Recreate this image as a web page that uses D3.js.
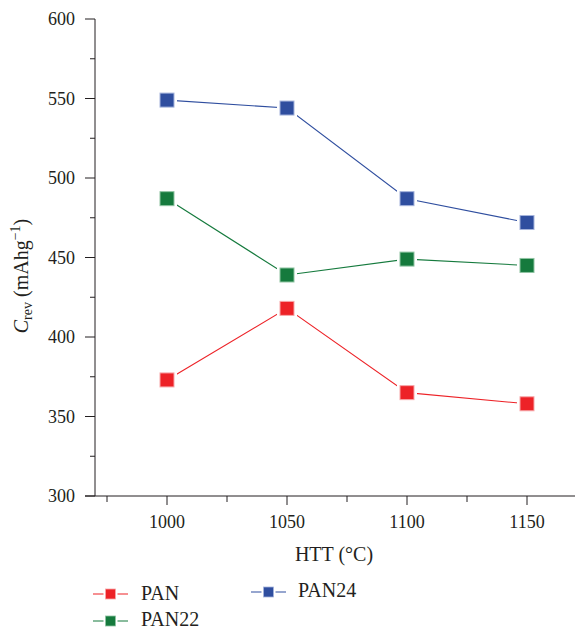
<!DOCTYPE html>
<html>
<head>
<meta charset="utf-8">
<script src="https://cdn.jsdelivr.net/npm/d3@7"></script>
<style>
  html, body { margin: 0; padding: 0; background: #fff; }
  svg { display: block; }
</style>
</head>
<body>
<svg id="chart" width="575" height="631"></svg>
<script>
// Heat-treatment temperatures (°C)
const temps = [1000, 1050, 1100, 1150];
// Reversible capacity (mAh g^-1) per precursor
const panValues   = [373, 418, 365, 358];
const pan22Values = [487, 439, 449, 445];
const pan24Values = [549, 544, 487, 472];
const seriesNames = ["PAN", "PAN22", "PAN24"];
const seriesColors = ["#ed2227", "#157a3d", "#2f4e9f"];
const seriesTints = ["#f7a7a9", "#8fc4a2", "#a5b4dc"];
const xTicks = [1000, 1050, 1100, 1150];
const yTicks = [300, 350, 400, 450, 500, 550, 600];

const series = [panValues, pan22Values, pan24Values].map((vals, i) => ({
  name: seriesNames[i], color: seriesColors[i], tint: seriesTints[i],
  points: vals.map((v, j) => ({ x: temps[j], y: v }))
}));

const ink = "#231f20";
const FONT = '"Liberation Serif"';
const svg = d3.select("#chart");
const x = d3.scaleLinear().domain([970, 1170]).range([95, 575]);
const y = d3.scaleLinear().domain([300, 600]).range([496, 19]);

// Left axis with outward major/minor ticks
const yAxis = svg.append("g").attr("transform", "translate(95,0)");
yAxis.append("line").attr("x1", 0).attr("x2", 0).attr("y1", y(600)).attr("y2", y(300))
  .attr("stroke", ink).attr("stroke-width", 1);
yAxis.selectAll("line.major").data(yTicks).join("line").attr("class", "major")
  .attr("x1", -10).attr("x2", 0).attr("y1", d => y(d)).attr("y2", d => y(d))
  .attr("stroke", ink);
yAxis.selectAll("line.minor").data(d3.range(325, 600, 50)).join("line").attr("class", "minor")
  .attr("x1", -5).attr("x2", 0).attr("y1", d => y(d)).attr("y2", d => y(d))
  .attr("stroke", ink);
yAxis.selectAll("text").data(yTicks).join("text")
  .attr("x", -20).attr("y", d => y(d)).attr("dy", "0.35em").attr("fill", ink)
  .style("font-family", FONT)
  .attr("text-anchor", "end").attr("font-size", 18).text(d => d);

// Bottom axis with outward major/minor ticks
const xAxis = svg.append("g").attr("transform", "translate(0,496)");
xAxis.append("line").attr("x1", 85).attr("x2", 575).attr("y1", 0).attr("y2", 0)
  .attr("stroke", ink);
xAxis.selectAll("line.major").data(xTicks).join("line").attr("class", "major")
  .attr("x1", d => x(d)).attr("x2", d => x(d)).attr("y1", 0).attr("y2", 9)
  .attr("stroke", ink);
xAxis.selectAll("line.minor").data([975, 1025, 1075, 1125]).join("line").attr("class", "minor")
  .attr("x1", d => x(d)).attr("x2", d => x(d)).attr("y1", 0).attr("y2", 6)
  .attr("stroke", ink);
xAxis.selectAll("text").data(xTicks).join("text")
  .attr("x", d => x(d)).attr("y", 32).attr("fill", ink)
  .style("font-family", FONT)
  .attr("text-anchor", "middle").attr("font-size", 18).text(d => d);

// Axis titles
svg.append("text").attr("x", 334).attr("y", 561).attr("text-anchor", "middle")
  .style("font-family", FONT)
  .attr("font-size", 20).attr("fill", ink).text("HTT (°C)");
const yt = svg.append("text").attr("transform", "translate(28,276) rotate(-90)")
  .style("font-family", FONT)
  .attr("text-anchor", "middle").attr("font-size", 20).attr("fill", ink);
yt.append("tspan").attr("font-style", "italic").text("C");
yt.append("tspan").attr("font-size", 14).attr("dy", 4).text("rev");
yt.append("tspan").attr("dy", -4).text(" (mAhg");
yt.append("tspan").attr("font-size", 14).attr("dy", -8).text("−1");
yt.append("tspan").attr("dy", 8).text(")");

// Lines and square markers
const line = d3.line().x(d => x(d.x)).y(d => y(d.y));
const plot = svg.append("g");
series.forEach(s => {
  plot.append("path").datum(s.points).attr("d", line)
    .attr("fill", "none").attr("stroke", s.color).attr("stroke-width", 1.1);
});
series.forEach(s => {
  const g = plot.append("g");
  g.selectAll("rect.halo").data(s.points).join("rect").attr("class", "halo")
    .attr("x", d => x(d.x) - 10).attr("y", d => y(d.y) - 10)
    .attr("width", 20).attr("height", 20).attr("fill", "#fff");
  g.selectAll("rect.mk").data(s.points).join("rect").attr("class", "mk")
    .attr("x", d => x(d.x) - 7).attr("y", d => y(d.y) - 7)
    .attr("width", 14).attr("height", 14)
    .attr("fill", s.color).attr("stroke", s.tint).attr("stroke-width", 1);
});

// Legend
const legendPos = [
  { lx: 93, ly: 594, tx: 141, ty: 600 },
  { lx: 93, ly: 621, tx: 141, ty: 626 },
  { lx: 251, ly: 592, tx: 298, ty: 597 }
];
series.forEach((s, i) => {
  const p = legendPos[i];
  const g = svg.append("g");
  g.append("line").attr("x1", p.lx).attr("x2", p.lx + 35).attr("y1", p.ly).attr("y2", p.ly)
    .attr("stroke", s.color).attr("stroke-width", 1.1);
  g.append("rect").attr("x", p.lx + 17.5 - 7).attr("y", p.ly - 7).attr("width", 14).attr("height", 14)
    .attr("fill", "#fff");
  g.append("rect").attr("x", p.lx + 17.5 - 5).attr("y", p.ly - 5).attr("width", 10).attr("height", 10)
    .attr("fill", s.color).attr("stroke", s.tint).attr("stroke-width", 0.8);
  g.append("text").attr("x", p.tx).attr("y", p.ty).attr("font-size", 20).attr("fill", ink)
    .style("font-family", FONT).text(s.name);
});
</script>
</body>
</html>
